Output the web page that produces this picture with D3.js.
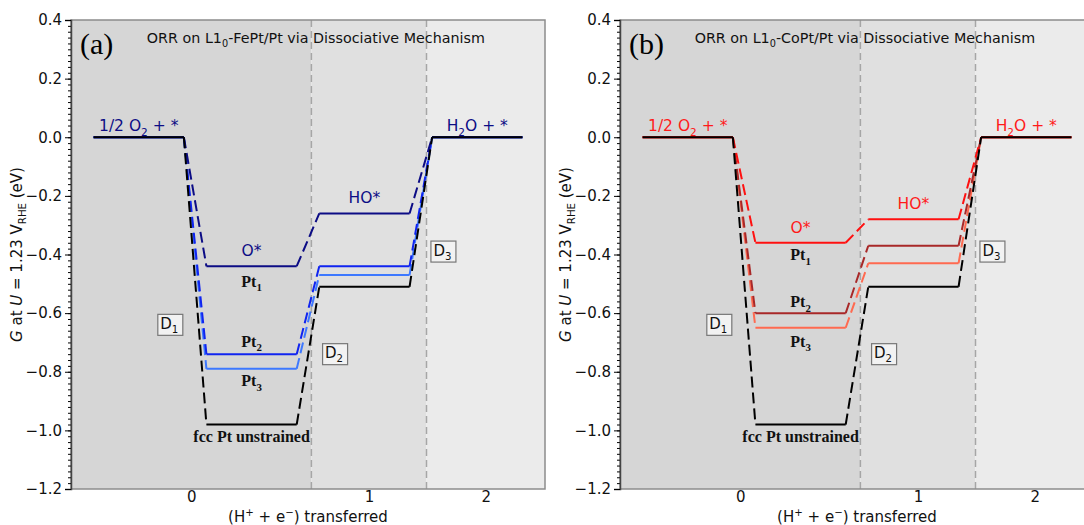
<!DOCTYPE html>
<html>
<head>
<meta charset="utf-8">
<script src="https://cdn.jsdelivr.net/npm/d3@7"></script>
<style>
  body { margin: 0; background: #fff; }
  svg { display: block; }
</style>
</head>
<body>
<div id="chart"></div>
<script>
// reaction steps (x positions of each free-energy level)
const steps = [0, 1, 2, 3];

// free energies (eV) at U = 1.23 V for each step
const fccPt = [0, -0.98, -0.51, 0];
const fePtPt1 = [0, -0.44, -0.26, 0];
const fePtPt2 = [0, -0.74, -0.44, 0];
const fePtPt3 = [0, -0.79, -0.47, 0];
const coPtPt1 = [0, -0.36, -0.28, 0];
const coPtPt2 = [0, -0.60, -0.37, 0];
const coPtPt3 = [0, -0.65, -0.43, 0];

// shaded regions (edges in step units) and their tick labels
const regionEdges = [-0.2, 1.93, 2.95, 4.0];
const xTickLabels = ["0", "1", "2"];
const yTicks = [0.4, 0.2, 0.0, -0.2, -0.4, -0.6, -0.8, -1.0, -1.2];

document.addEventListener("DOMContentLoaded", () => {
    const width = 1084;
    const height = 525;
    const plotW = 474;
    const marginTop = 20;
    const marginBottom = 36;

    const svg = d3.select("#chart")
        .append("svg")
        .attr("width", width)
        .attr("height", height)
        .attr("viewBox", [0, 0, width, height])
        .style("font-family", "'DejaVu Sans', sans-serif");

    // helper: text with sub/superscripts, baseline restored after each one
    function rich(sel, parts, size) {
        let shift = 0;
        parts.forEach(p => {
            const s = typeof p === "string" ? { t: p } : p;
            let target = 0;
            if (s.sub) target = size * 0.28;
            if (s.sup) target = -size * 0.42;
            const ts = sel.append("tspan").text(s.t).attr("dy", target - shift);
            shift = target;
            if (s.sub || s.sup) ts.attr("font-size", size * 0.68);
            if (s.it) ts.attr("font-style", "italic");
        });
        return sel;
    }

    function panel(left, cfg) {
        const x = d3.scaleLinear().domain([-0.2, 4.0]).range([left, left + plotW]);
        const y = d3.scaleLinear().domain([-1.2, 0.4]).range([height - marginBottom, marginTop]);
        const g = svg.append("g");

        // background regions
        const shades = ["#d6d6d6", "#e0e0e0", "#ebebeb"];
        g.selectAll("rect.region")
            .data(d3.range(3))
            .join("rect")
            .attr("x", i => x(regionEdges[i]))
            .attr("y", y(0.4))
            .attr("width", i => x(regionEdges[i + 1]) - x(regionEdges[i]))
            .attr("height", y(-1.2) - y(0.4))
            .attr("fill", i => shades[i]);

        g.selectAll("line.bound")
            .data(regionEdges.slice(1, 3))
            .join("line")
            .attr("x1", d => x(d)).attr("x2", d => x(d))
            .attr("y1", y(0.4)).attr("y2", y(-1.2))
            .attr("stroke", "#a6a6a6")
            .attr("stroke-width", 1.5)
            .attr("stroke-dasharray", "7,4");

        // energy profiles
        cfg.series.forEach(s => {
            const lines = g.append("g")
                .attr("stroke", s.color)
                .attr("stroke-width", 2)
                .attr("fill", "none");
            lines.selectAll("line.level")
                .data(steps)
                .join("line")
                .attr("x1", i => x(i)).attr("x2", i => x(i + 0.8))
                .attr("y1", i => y(s.values[i])).attr("y2", i => y(s.values[i]));
            lines.selectAll("line.link")
                .data(steps.slice(0, 3))
                .join("line")
                .attr("x1", i => x(i + 0.8)).attr("x2", i => x(i + 1))
                .attr("y1", i => y(s.values[i])).attr("y2", i => y(s.values[i + 1]))
                .attr("stroke-dasharray", "11,5");
        });

        // frame
        g.append("rect")
            .attr("x", x(-0.2)).attr("y", y(0.4))
            .attr("width", plotW).attr("height", y(-1.2) - y(0.4))
            .attr("fill", "none")
            .attr("stroke", "#8c8c8c")
            .attr("stroke-width", 1.5);

        // axes
        g.append("g")
            .attr("transform", `translate(${left},0)`)
            .call(d3.axisLeft(y).tickValues(d3.range(-60, 21).map(d => d / 50)).tickSize(3).tickFormat(""))
            .call(a => a.select(".domain").remove());
        g.append("g")
            .attr("transform", `translate(${left},0)`)
            .call(d3.axisLeft(y).tickValues(yTicks).tickSize(6).tickPadding(3).tickFormat(d3.format(".1f")))
            .call(a => a.select(".domain").attr("stroke", "#444").attr("stroke-width", 1.5))
            .call(a => a.selectAll("text").attr("font-size", 15).attr("fill", "#111")
                .attr("font-family", "'DejaVu Sans', sans-serif"));

        const centers = d3.range(3).map(i => (regionEdges[i] + regionEdges[i + 1]) / 2);
        g.append("g")
            .attr("transform", `translate(0,${y(-1.2)})`)
            .call(d3.axisBottom(x).tickValues(centers).tickSize(0).tickPadding(2).tickFormat((d, i) => xTickLabels[i]))
            .call(a => a.select(".domain").remove())
            .call(a => a.selectAll("text").attr("font-size", 15).attr("fill", "#111")
                .attr("font-family", "'DejaVu Sans', sans-serif"));

        // axis titles
        rich(svg.append("text")
            .attr("transform", `translate(${left - 49},${(y(0.4) + y(-1.2)) / 2}) rotate(-90)`)
            .attr("text-anchor", "middle")
            .attr("font-size", 15)
            .attr("fill", "#111"),
            [{ t: "G", it: true }, " at ", { t: "U", it: true }, " = 1.23 V", { t: "RHE", sub: true }, " (eV)"], 15);
        rich(svg.append("text")
            .attr("x", left + plotW / 2)
            .attr("y", height - 3)
            .attr("text-anchor", "middle")
            .attr("font-size", 15)
            .attr("fill", "#111"),
            ["(H", { t: "+", sup: true }, " + e", { t: "−", sup: true }, ") transferred"], 15);

        // panel letter and title
        g.append("text")
            .attr("x", x(-0.2) + 9).attr("y", y(0.4) + 34)
            .attr("font-family", "'Liberation Serif', serif")
            .attr("font-size", 30)
            .text(cfg.letter);
        rich(g.append("text")
            .attr("x", x(1.97)).attr("y", y(0.4) + 23)
            .attr("text-anchor", "middle")
            .attr("font-size", 14.3)
            .attr("fill", "#111"),
            ["ORR on L1", { t: "0", sub: true }, cfg.alloy + " via Dissociative Mechanism"], 14.3);

        // species labels
        const lab = (xv, yv, parts) => rich(g.append("text")
            .attr("x", x(xv)).attr("y", y(yv))
            .attr("text-anchor", "middle")
            .attr("font-size", 15.5)
            .attr("fill", cfg.labelColor), parts, 15.5);
        lab(0.4, 0.02, ["1/2 O", { t: "2", sub: true }, " + *"]);
        lab(3.4, 0.02, ["H", { t: "2", sub: true }, "O + *"]);
        lab(1.4, cfg.oStar, ["O*"]);
        lab(2.4, cfg.hoStar, ["HO*"]);

        // surface labels
        cfg.ptLabels.forEach(p => {
            rich(g.append("text")
                .attr("x", x(1.4)).attr("y", y(p.y))
                .attr("text-anchor", "middle")
                .attr("font-family", "'Liberation Serif', serif")
                .attr("font-weight", "bold")
                .attr("font-size", 16)
                .attr("fill", "#111"),
                p.sub ? ["Pt", { t: p.sub, sub: true }] : [p.text], 16);
        });

        // step boxes
        cfg.boxes.forEach((b, i) => {
            const cx = x(b.x), cy = y(b.y);
            g.append("rect")
                .attr("x", cx - 12.5).attr("y", cy - 10.5)
                .attr("width", 25).attr("height", 21)
                .attr("fill", "#f2f2f2")
                .attr("stroke", "#777")
                .attr("stroke-width", 1.2);
            rich(g.append("text")
                .attr("x", cx - 1).attr("y", cy + 4)
                .attr("text-anchor", "middle")
                .attr("font-size", 15)
                .attr("fill", "#111"),
                ["D", { t: String(i + 1), sub: true }], 15);
        });
    }

    panel(71, {
        letter: "(a)",
        alloy: "-FePt/Pt",
        labelColor: "#0c0c85",
        oStar: -0.405,
        hoStar: -0.225,
        series: [
            { values: fePtPt3, color: "#3d78ff" },
            { values: fePtPt2, color: "#1024f0" },
            { values: fePtPt1, color: "#0c0c85" },
            { values: fccPt, color: "#000" }
        ],
        ptLabels: [
            { y: -0.51, sub: "1" },
            { y: -0.715, sub: "2" },
            { y: -0.85, sub: "3" },
            { y: -1.04, text: "fcc Pt unstrained" }
        ],
        boxes: [{ x: 0.68, y: -0.64 }, { x: 2.14, y: -0.74 }, { x: 3.1, y: -0.39 }]
    });

    panel(620, {
        letter: "(b)",
        alloy: "-CoPt/Pt",
        labelColor: "#ff1a1a",
        oStar: -0.325,
        hoStar: -0.245,
        series: [
            { values: coPtPt3, color: "#ff6a50" },
            { values: coPtPt2, color: "#a82828" },
            { values: coPtPt1, color: "#ff1010" },
            { values: fccPt, color: "#000" }
        ],
        ptLabels: [
            { y: -0.42, sub: "1" },
            { y: -0.58, sub: "2" },
            { y: -0.715, sub: "3" },
            { y: -1.04, text: "fcc Pt unstrained" }
        ],
        boxes: [{ x: 0.68, y: -0.64 }, { x: 2.14, y: -0.74 }, { x: 3.1, y: -0.39 }]
    });
});
</script>
</body>
</html>
